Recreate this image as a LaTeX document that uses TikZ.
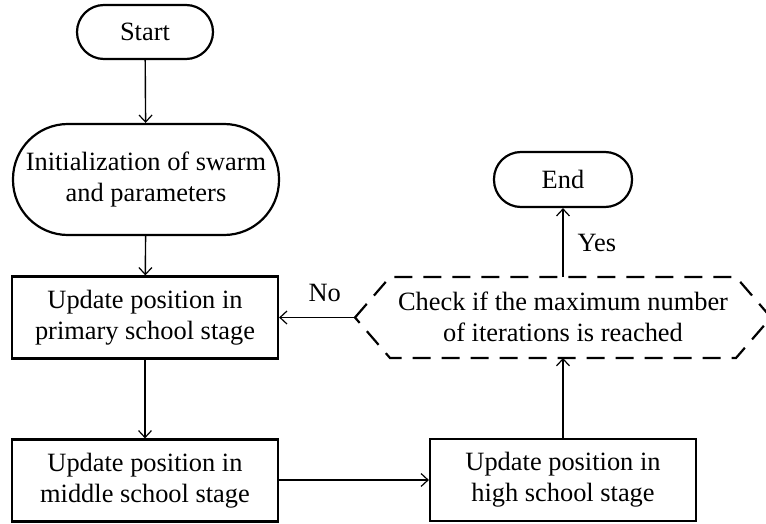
\documentclass[tikz,border=0pt]{standalone}
\usepackage{fontspec}
\setmainfont{Liberation Serif}
\usetikzlibrary{arrows.meta}
\begin{document}
\begin{tikzpicture}[x=1pt,y=-1pt,
  every node/.style={font=\fontsize{26.4}{31}\selectfont, align=center, inner sep=0pt},
  term/.style={draw, line width=2.2pt, rounded corners=#1, minimum width=136pt, minimum height=54pt},
  proc/.style={draw, line width=2.2pt, minimum width=266pt, minimum height=82pt},
  flow/.style={line width=1.4pt, -{Straight Barb[length=7pt,width=13pt,line width=1.2pt]}},
  hexline/.style={line width=2.2pt, dash pattern=on 18pt off 11pt}
]
\useasboundingbox (0,0) rectangle (766,524);
\node[term=27pt] (start) at (145,32) {Start};
\node[term=55pt, minimum width=266pt, minimum height=111pt] (init) at (146,179.5) {Initialization of swarm\\and parameters};
\node[proc] (primary) at (145,317.5) {Update position in\\primary school stage};
\node[proc] (middle) at (145,480.5) {Update position in\\middle school stage};
\node[proc] (high) at (563,480) {Update position in\\high school stage};
\node[term=27pt, minimum width=138pt, minimum height=55pt] (end) at (563,179.5) {End};
\node (check) at (563,317) {Check if the maximum number\\of iterations is reached};
\coordinate (chkL) at (355,317.5);
\coordinate (chkR) at (771,317.5);
\coordinate (chkT) at (563,277);
\coordinate (chkB) at (563,358);
\draw[hexline] (chkL) -- (390,277) -- (chkT) -- (736,277) -- (chkR) -- (736,358) -- (chkB) -- (390,358) -- cycle;
\draw[flow] (start) -- (init);
\draw[flow] (init) -- (primary);
\draw[flow] (primary) -- (middle);
\draw[flow] (middle.east |- high.west) -- (high.west);
\draw[flow] (high.north) -- (chkB);
\draw[flow] (chkT) -- (end) node[pos=0.5, right=14pt] (yes) {Yes};
\draw[flow] (chkL) -- (primary.east |- chkL) node[pos=0.4, above=15pt] (no) {No};
\end{tikzpicture}
\end{document}
